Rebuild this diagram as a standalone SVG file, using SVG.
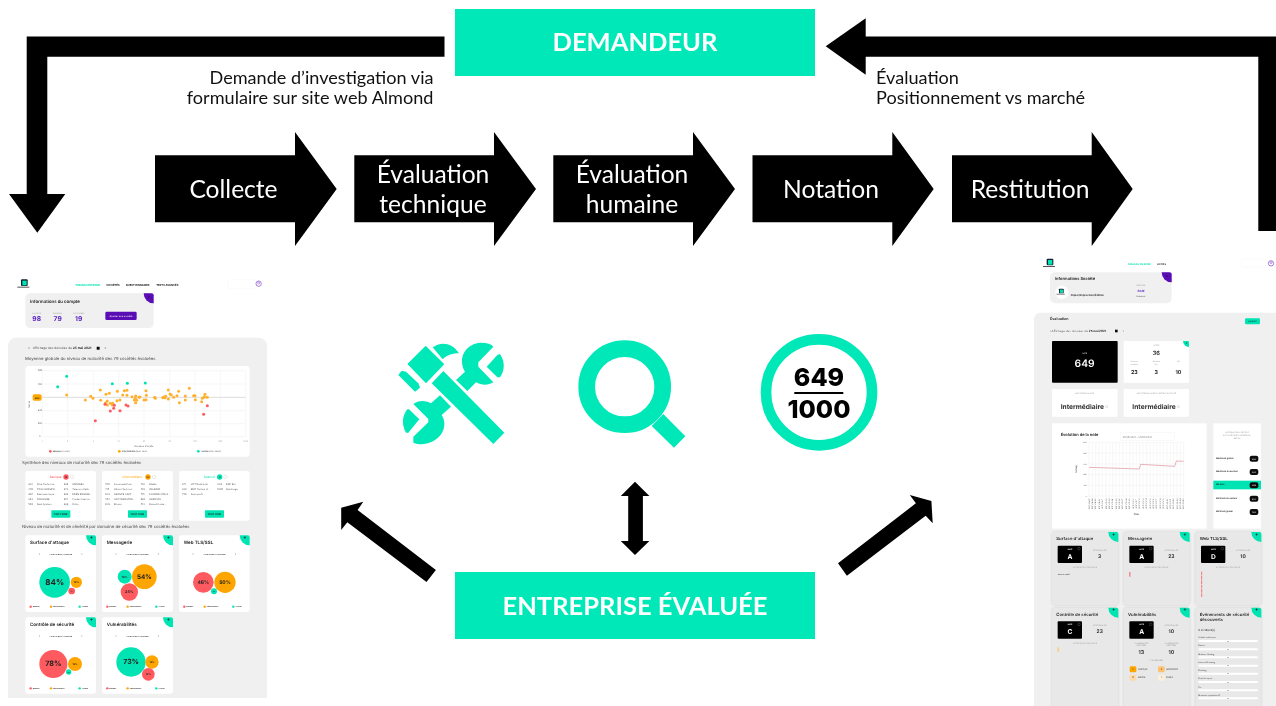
<svg xmlns="http://www.w3.org/2000/svg" width="1276" height="706" viewBox="0 0 1276 706">
<style>
text{font-family:"Lato","Open Sans","Liberation Sans",sans-serif}
.m{fill:#00e8b8}.k{fill:#000}
.st{font-size:24.6px;fill:#fff;text-anchor:middle}
.ti{font-size:25.5px;font-weight:700;fill:#fff;text-anchor:middle}
.la{font-size:18.1px;fill:#111}
.sc text{font-family:"Inter","Open Sans",sans-serif;fill:#222;text-rendering:geometricPrecision}
.sc .c,.c{text-anchor:middle}
.sc .g{fill:#999}
.sc .w{fill:#fff}
.sc .b{font-weight:700}
.sc .s{font-weight:600}
.sc .p{fill:#5a1fc0;font-weight:700}
.sc .mi{fill:#00e3b2}
.sc .hd{font-size:12.7px;fill:#444}
.card{fill:#fff}
.gray{fill:#f0f0f0}
.tile{fill:#e8e8e8;filter:drop-shadow(0 0 3px #ccc)}
.r{fill:#ff5a5f}.o{fill:#ffa500}.v{fill:#00e3b2}
.grid{stroke:#eee;stroke-width:1.5;fill:none}
.n6 text{font-size:7.5px;fill:#555}
.lg text{font-size:6px}
.t13{font-size:13.5px;font-weight:600}
.f5{font-size:5px}
.f6{font-size:6.5px}
.pts circle{stroke:none}
.pts .o{fill:#ffb02e}
</style>
<defs>
<filter id="bl" x="-2%" y="-2%" width="104%" height="104%"><feGaussianBlur stdDeviation="0.5"/></filter>
<g id="gc"><path class="v" d="M-30 0H-6a6 6 0 0 1 6 6V30A30 30 0 0 1-30 0Z"/><text class="c b" x="-14" y="14" style="font-size:15px;fill:#000">+</text></g>
<g id="pc"><path d="M-30 0H-6a6 6 0 0 1 6 6V30A30 30 0 0 1-30 0Z" fill="#5a0fb4"/><text class="c w b" x="-14" y="14" style="font-size:12px">+</text></g>
<g id="lgd" class="lg"><circle class="r" cx="16" cy="380" r="3.5"/><text x="22" y="382">Basique</text><circle class="o" cx="77" cy="380" r="3.5"/><text x="83" y="382">Intermédiaire</text><circle class="v" cx="163" cy="380" r="3.5"/><text x="169" y="382">Avancé</text></g>
<g id="nvm"><text class="c s" x="106" y="225" style="font-size:6.5px">NIVEAU DE MATURITÉ</text><text class="c s" x="42" y="226" style="font-size:10px">‹</text><text class="c s" x="170" y="226" style="font-size:10px">›</text></g>
<g id="logo"><rect x="0" y="0" width="20" height="20" rx="3" fill="#123"/><rect x="4" y="4" width="13" height="14" fill="#00e3b2"/><rect x="-11" y="22" width="36" height="3" fill="#555"/></g>
<g id="usr"><circle r="8" fill="none" stroke="#7a40c8" stroke-width="2"/><circle cy="-2" r="3" fill="none" stroke="#7a40c8" stroke-width="1.5"/></g>
</defs>
<rect width="1276" height="706" fill="#fff"/>

<g id="screen-left" class="sc" filter="url(#bl)">
<g transform="translate(0 270) scale(.33333)">
<use href="#logo" x="63" y="28"/>
<text class="c b mi" x="263" y="47" style="font-size:8px">TABLEAU DE BORD</text>
<text class="c b" x="339" y="47" style="font-size:8px">SOCIÉTÉS</text>
<text class="c b" x="413" y="47" style="font-size:8px">QUESTIONNAIRES</text>
<text class="c b" x="502" y="47" style="font-size:8px">TESTS AVANCÉS</text>
<rect x="683" y="29" width="87" height="27" rx="4" fill="#fff" stroke="#f2f2f2"/>
<use href="#usr" x="776" y="41"/>
<rect class="gray" x="76" y="70" width="385" height="104" rx="14"/>
<use href="#pc" x="461" y="70"/>
<text x="90" y="99" class="s" style="font-size:13px">Informations du compte</text>
<text class="c g f6" x="110" y="131">SOCIÉTÉ</text><text class="c g f6" x="173" y="131">ÉVALUÉS</text><text class="c g f6" x="237" y="131">EN COURS</text>
<text class="c p" x="110" y="154" style="font-size:20px">98</text><text class="c p" x="173" y="154" style="font-size:20px">79</text><text class="c p" x="236" y="154" style="font-size:20px">19</text>
<rect x="316" y="125" width="94" height="25" rx="4" fill="#5a0fb4"/><text class="c w" x="363" y="140" style="font-size:7.5px">Ajouter une société</text>
<path class="gray" d="M24 1284V228a25 25 0 0 1 25-25H776a25 25 0 0 1 25 25V1284Z"/>
<text class="c" x="87" y="238" style="font-size:11px">‹</text>
<text x="98" y="237" style="font-size:9.5px;fill:#555">Affichage des données du <tspan class="b" style="fill:#111">25 mai 2021</tspan></text>
<rect x="290" y="230" width="9" height="9" rx="1" fill="#111"/>
<text class="c" x="316" y="238" style="font-size:11px">›</text>
<text class="hd" x="75" y="269">Moyenne globale du niveau de maturité des 79 sociétés évaluées</text>
<rect class="card" x="76" y="288" width="673" height="272" rx="10"/>
<path class="grid" d="M127 302V500M203 302V500M280 302V500M356 302V500M432 302V500M509 302V500M585 302V500M661 302V500M737 302V500M127 302H737M127 342H737M127 422H737M127 461H737M127 500H737"/>
<path d="M127 382H737" stroke="#ddd" stroke-width="3"/>
<g class="c g" style="font-size:6px" text-anchor="end"><text x="120" y="304">1000</text><text x="120" y="344">800</text><text x="120" y="424">400</text><text x="120" y="463">200</text><text x="120" y="502">0</text></g>
<g style="font-size:6px"><text class="c g" x="127" y="516">1</text><text class="c g" x="203" y="516">2</text><text class="c g" x="280" y="516">5</text><text class="c g" x="356" y="516">10</text><text class="c g" x="432" y="516">20</text><text class="c g" x="509" y="516">50</text><text class="c g" x="585" y="516">100</text><text class="c g" x="661" y="516">200</text><text class="c g" x="737" y="516">1000</text></g>
<rect x="98" y="373" width="27" height="19" rx="5" fill="#ffa500"/><text class="c b" x="112" y="386" style="font-size:7px">652</text>
<text class="c" transform="translate(91 403) rotate(-90)" style="font-size:7.5px;fill:#555">Score</text>
<text class="c" x="432" y="532" style="font-size:7.5px;fill:#555">Nombre d'actifs</text>
<g class="pts"><g class="o" >
<circle cx="200" cy="375" r="4.5"/><circle cx="256" cy="390" r="4.5"/><circle cx="272" cy="379" r="4.5"/><circle cx="279" cy="385" r="4.5"/><circle cx="301" cy="360" r="4.5"/><circle cx="302" cy="391" r="4.5"/><circle cx="318" cy="373" r="4.5"/><circle cx="328" cy="370" r="4.5"/><circle cx="322" cy="393" r="4.5"/><circle cx="317" cy="398" r="4.5"/><circle cx="331" cy="400" r="4.5"/><circle cx="338" cy="400" r="4.5"/><circle cx="352" cy="364" r="4.5"/><circle cx="351" cy="392" r="4.5"/><circle cx="360" cy="390" r="4.5"/><circle cx="368" cy="375" r="4.5"/><circle cx="373" cy="362" r="4.5"/><circle cx="381" cy="361" r="4.5"/><circle cx="381" cy="376" r="4.5"/><circle cx="396" cy="380" r="4.5"/><circle cx="403" cy="390" r="4.5"/><circle cx="407" cy="378" r="4.5"/><circle cx="406" cy="385" r="4.5"/><circle cx="417" cy="382" r="4.5"/><circle cx="420" cy="381" r="4.5"/><circle cx="407" cy="398" r="4.5"/><circle cx="410" cy="391" r="4.5"/><circle cx="432" cy="390" r="4.5"/><circle cx="438" cy="389" r="4.5"/><circle cx="438" cy="362" r="4.5"/><circle cx="439" cy="376" r="4.5"/><circle cx="464" cy="382" r="4.5"/><circle cx="466" cy="385" r="4.5"/><circle cx="488" cy="383" r="4.5"/><circle cx="492" cy="381" r="4.5"/><circle cx="497" cy="379" r="4.5"/><circle cx="505" cy="360" r="4.5"/><circle cx="505" cy="387" r="4.5"/><circle cx="510" cy="372" r="4.5"/><circle cx="514" cy="375" r="4.5"/><circle cx="521" cy="382" r="4.5"/><circle cx="531" cy="377" r="4.5"/><circle cx="536" cy="364" r="4.5"/><circle cx="538" cy="398" r="4.5"/><circle cx="556" cy="378" r="4.5"/><circle cx="556" cy="390" r="4.5"/><circle cx="568" cy="355" r="4.5"/><circle cx="581" cy="377" r="4.5"/><circle cx="585" cy="377" r="4.5"/><circle cx="586" cy="389" r="4.5"/><circle cx="605" cy="395" r="4.5"/><circle cx="607" cy="385" r="4.5"/><circle cx="615" cy="373" r="4.5"/><circle cx="613" cy="380" r="4.5"/><circle cx="622" cy="382" r="4.5"/><circle cx="612" cy="382" r="4.5"/><circle cx="495" cy="383" r="4.5"/><circle cx="337" cy="405" r="4.5"/><circle cx="322" cy="405" r="4.5"/></g>
<g class="r"><circle cx="286" cy="452" r="4.5"/><circle cx="315" cy="403" r="4.5"/><circle cx="331" cy="423" r="4.5"/><circle cx="341" cy="415" r="4.5"/><circle cx="343" cy="406" r="4.5"/><circle cx="360" cy="422" r="4.5"/><circle cx="378" cy="405" r="4.5"/><circle cx="384" cy="408" r="4.5"/><circle cx="611" cy="433" r="4.5"/><circle cx="622" cy="407" r="4.5"/></g>
<g class="v"><circle cx="173" cy="350" r="4.5"/><circle cx="200" cy="319" r="4.5"/><circle cx="337" cy="341" r="4.5"/><circle cx="382" cy="340" r="4.5"/><circle cx="436" cy="339" r="4.5"/></g></g>
<g style="font-size:6.5px"><circle class="r" cx="151" cy="544" r="4"/><text x="158" y="546">Basique (0-500)</text><circle class="o" cx="358" cy="544" r="4"/><text x="366" y="546">Intermédiaire (500-750)</text><circle class="v" cx="595" cy="544" r="4"/><text x="603" y="546">Avancé (750-1000)</text></g>
<text class="hd" x="66" y="581">Synthèse des niveaux de maturité des 79 sociétés évaluées</text>
<rect class="card" x="76" y="603" width="212" height="149" rx="7"/><rect class="card" x="306" y="603" width="213" height="149" rx="7"/><rect class="card" x="537" y="603" width="212" height="149" rx="7"/>
<text class="c" x="167" y="625" style="font-size:9.5px;fill:#ff5a5f">Basique</text><circle class="r" cx="198" cy="621" r="8"/><text class="c b" x="198" y="624" style="font-size:7px">16</text><circle cx="216" cy="621" r="5" fill="none" stroke="#bbb"/>
<text class="c" x="397" y="625" style="font-size:9.5px;fill:#ffa500">Intermédiaire</text><circle class="o" cx="444" cy="621" r="8"/><text class="c b" x="444" y="624" style="font-size:7px">58</text><circle cx="462" cy="621" r="5" fill="none" stroke="#bbb"/>
<text class="c" x="628" y="625" style="font-size:9.5px;fill:#00e3b2">Avancé</text><circle class="v" cx="659" cy="621" r="8"/><text class="c b" x="659" y="624" style="font-size:7px">5</text><circle cx="676" cy="621" r="5" fill="none" stroke="#bbb"/>
</g>
<g transform="translate(0 480) scale(.33333)">
<g class="n6">
<text x="85" y="16">481</text><text x="111" y="16">Dive Performa...</text><text x="85" y="31">350</text><text x="111" y="31">TOSS GROUPE...</text><text x="85" y="46">467</text><text x="111" y="46">Business Secu...</text><text x="85" y="60">263</text><text x="111" y="60">DIGISIGNE</text><text x="85" y="75">500</text><text x="111" y="75">Real System</text>
<text x="191" y="16">409</text><text x="217" y="16">ANTARES</text><text x="191" y="31">473</text><text x="217" y="31">Telecom Valle</text><text x="191" y="46">408</text><text x="217" y="46">EDEN BOURSE...</text><text x="191" y="60">415</text><text x="217" y="60">Prodact Servic...</text><text x="191" y="75">489</text><text x="217" y="75">Orkis</text>
<text x="316" y="16">570</text><text x="342" y="16">Accenade Fran...</text><text x="316" y="31">715</text><text x="342" y="31">Altravi Technol...</text><text x="316" y="46">633</text><text x="342" y="46">GROUPE SAFT...</text><text x="316" y="60">553</text><text x="342" y="60">SOCTRANSPOR...</text><text x="316" y="75">638</text><text x="342" y="75">Etrans</text>
<text x="422" y="16">714</text><text x="448" y="16">Blabla</text><text x="422" y="31">703</text><text x="448" y="31">OBJENIO</text><text x="422" y="46">715</text><text x="448" y="46">FLOWER SITE A...</text><text x="422" y="60">663</text><text x="448" y="60">GEKOSPA</text><text x="422" y="75">513</text><text x="448" y="75">Barentt Luxu...</text>
<text x="546" y="16">871</text><text x="572" y="16">HTT Data Solu</text><text x="546" y="31">830</text><text x="572" y="31">BMT Partner A...</text><text x="546" y="46">759</text><text x="572" y="46">Sunnosoft</text>
<text x="652" y="16">829</text><text x="678" y="16">BNP Ehl</text><text x="652" y="31">1000</text><text x="678" y="31">Quintrege</text>
</g>
<g><rect class="v" x="154" y="91" width="57" height="22" rx="2"/><text class="c b" x="182" y="105" style="font-size:7.5px">TOUT VOIR</text><rect class="v" x="384" y="91" width="57" height="22" rx="2"/><text class="c b" x="412" y="105" style="font-size:7.5px">TOUT VOIR</text><rect class="v" x="615" y="91" width="57" height="22" rx="2"/><text class="c b" x="643" y="105" style="font-size:7.5px">TOUT VOIR</text></g>
<text class="hd" x="66" y="144">Niveau de maturité et de sévérité par domaine de sécurité des 79 sociétés évaluées</text>
<g id="l-surface"><rect class="card" x="76" y="166" width="212" height="230" rx="7"/><use href="#gc" x="288" y="166"/><text class="t13" x="90" y="193">Surface d'attaque</text><use href="#nvm" x="76"/><use href="#lgd" x="76"/>
<circle class="v" cx="164" cy="307" r="46"/><circle class="o" cx="229" cy="307" r="17"/><circle class="r" cx="215" cy="333" r="10"/><text class="c b" x="164" y="315" style="font-size:24px">84%</text><text class="c b" x="229" y="310" style="font-size:7px">10%</text><text class="c b" x="215" y="335" style="font-size:5px">1%</text></g>
<g id="l-messagerie"><rect class="card" x="306" y="166" width="213" height="230" rx="7"/><use href="#gc" x="519" y="166"/><text class="t13" x="320" y="193">Messagerie</text><use href="#nvm" x="306"/><use href="#lgd" x="306"/>
<circle class="v" cx="374" cy="290" r="21"/><circle class="o" cx="433" cy="290" r="37"/><circle class="r" cx="388" cy="336" r="26"/><text class="c b" x="433" y="296" style="font-size:19px">54%</text><text class="c b" x="374" y="293" style="font-size:8px">18%</text><text class="c b" x="388" y="340" style="font-size:11px">28%</text></g>
<g id="l-web"><rect class="card" x="537" y="166" width="212" height="230" rx="7"/><use href="#gc" x="749" y="166"/><text class="t13" x="551" y="193">Web TLS/SSL</text><use href="#nvm" x="537"/><use href="#lgd" x="537"/>
<circle class="r" cx="610" cy="307" r="31"/><circle class="o" cx="675" cy="307" r="32"/><circle class="v" cx="642" cy="334" r="9"/><text class="c b" x="610" y="312" style="font-size:15px">46%</text><text class="c b" x="675" y="312" style="font-size:15px">50%</text><text class="c b" x="642" y="336" style="font-size:4.5px">4%</text></g>
<g id="l-controle"><rect class="card" x="76" y="412" width="212" height="229" rx="7"/><use href="#gc" x="288" y="412"/><text class="t13" x="90" y="438">Contrôle de sécurité</text><use transform="translate(76 245)" href="#nvm"/><use transform="translate(76 245)" href="#lgd"/>
<circle class="r" cx="160" cy="552" r="42"/><circle class="o" cx="225" cy="552" r="21"/><circle class="v" cx="206" cy="576" r="8"/><text class="c b" x="160" y="559" style="font-size:22px">78%</text><text class="c b" x="225" y="555" style="font-size:7px">19%</text><text class="c b" x="206" y="578" style="font-size:4.5px">3%</text></g>
<g id="l-vuln"><rect class="card" x="306" y="412" width="213" height="229" rx="7"/><use href="#gc" x="519" y="412"/><text class="t13" x="320" y="438">Vulnérabilités</text><use transform="translate(306 245)" href="#nvm"/><use transform="translate(306 245)" href="#lgd"/>
<circle class="v" cx="393" cy="546" r="44"/><circle class="o" cx="456" cy="546" r="20"/><circle class="r" cx="445" cy="583" r="19"/><text class="c b" x="393" y="552" style="font-size:21px">73%</text><text class="c b" x="456" y="549" style="font-size:7px">14%</text><text class="c b" x="445" y="586" style="font-size:7px">14%</text></g>
</g>
</g>

<g id="screen-right" class="sc" filter="url(#bl)">
<g transform="translate(1030 250) scale(.33333)">
<use href="#logo" x="50" y="26"/>
<text class="c b mi" x="328" y="46" style="font-size:7.5px">TABLEAU DE BORD</text><text class="c b" x="395" y="46" style="font-size:7.5px">ACTIFS</text>
<rect x="635" y="27" width="75" height="25" rx="4" fill="#fff" stroke="#f2f2f2"/><use href="#usr" x="723" y="40"/>
<rect class="gray" x="60" y="67" width="365" height="93" rx="15"/><use href="#pc" x="425" y="67"/>
<text x="75" y="89" class="s" style="font-size:12px">Informations Société</text>
<circle cx="96" cy="127" r="20" fill="#fff"/><use href="#logo" transform="translate(87 116) scale(.7)"/>
<text x="122" y="139" style="font-size:8px" class="s">Papier/Impression/Édition</text>
<text class="c g f5" x="332" y="109">CATÉGORIE</text><text class="c p" x="333" y="125" style="font-size:9px">Gold</text><text class="c" x="332" y="142" style="font-size:6px">Unlimited</text>
<path class="gray" d="M12 1400V208a20 20 0 0 1 20-20H760V1400Z"/>
<text x="60" y="209" class="s" style="font-size:11px">Évaluation</text>
<rect class="v" x="645" y="205" width="45" height="18" rx="4"/><text class="c" x="667" y="217" style="font-size:6.5px">Exporter</text>
<text x="59" y="246" style="font-size:8.8px;fill:#555">‹ Affichage des données du <tspan class="b" style="fill:#111">25 mai 2021</tspan></text><rect x="255" y="239" width="8" height="8" fill="#111"/><text x="278" y="246" style="font-size:8px">›</text>
<rect x="66" y="273" width="197" height="125" rx="3" fill="#000"/><text class="c w f5" x="164" y="312">NOTE</text><text class="c w s" x="164" y="350" style="font-size:31px">649</text>
<rect class="card" x="281" y="273" width="196" height="125" rx="3"/><use href="#gc" transform="translate(477 273) scale(.6)"/>
<text class="c g f5" x="379" y="288">ACTIFS</text><text class="c s" x="379" y="316" style="font-size:17px">36</text>
<text class="c g f5" x="313" y="337">Noms de</text><text class="c g f5" x="313" y="345">domaines</text><text class="c g f5" x="379" y="337">Adresses</text><text class="c g f5" x="379" y="345">IPv4</text><text class="c g f5" x="445" y="337">URL</text>
<text class="c b" x="313" y="372" style="font-size:16px">23</text><text class="c b" x="379" y="372" style="font-size:16px">3</text><text class="c b" x="445" y="372" style="font-size:16px">10</text>
<rect class="card" x="66" y="417" width="197" height="83" rx="3"/><text class="c g f5" x="164" y="431">MATURITÉ DE LA NOTE</text><text class="c b" x="157" y="477" style="font-size:20px;fill:#333">Intermédiaire</text><circle cx="230" cy="470" r="3.5" fill="none" stroke="#aaa"/>
<rect class="card" x="281" y="417" width="196" height="83" rx="3"/><text class="c g f5" x="379" y="431">MATURITÉ DE LA NOTE DU SECTEUR D'ACTIVITÉ</text><text class="c b" x="372" y="477" style="font-size:20px;fill:#333">Intermédiaire</text><circle cx="445" cy="470" r="3.5" fill="none" stroke="#aaa"/>
</g>
<g id="r-chart" transform="translate(1040 420) scale(.33333)">
<rect class="card" x="36" y="10" width="464" height="316"/>
<text x="62" y="49" class="s" style="font-size:12px">Évolution de la note</text>
<rect x="241" y="38" width="162" height="24" fill="#fff" stroke="#eee"/><text x="248" y="53" style="font-size:7.5px;fill:#777">01/05/2021 - 25/05/2021</text>
<path class="grid" d="M147 67H431M147 99H431M147 132H431M147 164H431M147 196H431M147 228H431M147 67V232M157 67V232M167 67V232M177 67V232M187 67V232M198 67V232M208 67V232M218 67V232M228 67V232M238 67V232M248 67V232M259 67V232M269 67V232M279 67V232M289 67V232M299 67V232M309 67V232M320 67V232M330 67V232M340 67V232M350 67V232M360 67V232M370 67V232M381 67V232M391 67V232M401 67V232M411 67V232M421 67V232M431 67V232"/>
<g style="font-size:5.5px" text-anchor="end"><text x="141" y="69">1000</text><text x="141" y="101">800</text><text x="141" y="134">600</text><text x="141" y="166">400</text><text x="141" y="198">200</text><text x="141" y="230">0</text></g>
<path d="M147 142L298 147L302 133L404 139L409 123L431 124" fill="none" stroke="#d9909a" stroke-width="2"/>
<g style="font-size:5.6px;fill:#777" text-anchor="end">
<text transform="translate(149 236) rotate(-90)">2021-04-27</text><text transform="translate(159 236) rotate(-90)">2021-04-28</text><text transform="translate(169 236) rotate(-90)">2021-04-29</text><text transform="translate(179 236) rotate(-90)">2021-04-30</text><text transform="translate(189 236) rotate(-90)">2021-05-01</text><text transform="translate(200 236) rotate(-90)">2021-05-02</text><text transform="translate(210 236) rotate(-90)">2021-05-03</text><text transform="translate(220 236) rotate(-90)">2021-05-04</text><text transform="translate(230 236) rotate(-90)">2021-05-05</text><text transform="translate(240 236) rotate(-90)">2021-05-06</text><text transform="translate(250 236) rotate(-90)">2021-05-07</text><text transform="translate(261 236) rotate(-90)">2021-05-08</text><text transform="translate(271 236) rotate(-90)">2021-05-09</text><text transform="translate(281 236) rotate(-90)">2021-05-10</text><text transform="translate(291 236) rotate(-90)">2021-05-11</text><text transform="translate(301 236) rotate(-90)">2021-05-12</text><text transform="translate(311 236) rotate(-90)">2021-05-13</text><text transform="translate(322 236) rotate(-90)">2021-05-14</text><text transform="translate(332 236) rotate(-90)">2021-05-15</text><text transform="translate(342 236) rotate(-90)">2021-05-16</text><text transform="translate(352 236) rotate(-90)">2021-05-17</text><text transform="translate(362 236) rotate(-90)">2021-05-18</text><text transform="translate(372 236) rotate(-90)">2021-05-19</text><text transform="translate(383 236) rotate(-90)">2021-05-20</text><text transform="translate(393 236) rotate(-90)">2021-05-21</text><text transform="translate(403 236) rotate(-90)">2021-05-22</text><text transform="translate(413 236) rotate(-90)">2021-05-23</text><text transform="translate(423 236) rotate(-90)">2021-05-24</text><text transform="translate(433 236) rotate(-90)">2021-05-25</text></g>
<text class="c" transform="translate(110 147) rotate(-90)" style="font-size:7px">Rating</text><text class="c" x="289" y="284" style="font-size:7px">Date</text>
<rect class="card" x="520" y="10" width="143" height="316"/>
<g class="g f5"><text class="c g" x="591" y="38">NOTE RELATIVE AU SECTEUR</text><text class="c g" x="591" y="48">D'ACTIVITÉ PAPIER / IMPRESSION /</text><text class="c g" x="591" y="58">ÉDITION</text></g>
<rect class="v" x="520" y="182" width="143" height="26"/>
<g class="s" style="font-size:6.5px"><text x="528" y="116">Maximum global</text><text x="528" y="156">Maximum du secteur</text><text x="528" y="196">Ma note</text><text x="528" y="236">Minimum du secteur</text><text x="528" y="276">Minimum global</text></g>
<g fill="#111"><rect x="629" y="107" width="26" height="18" rx="6"/><rect x="629" y="147" width="26" height="18" rx="6"/><rect x="629" y="187" width="26" height="18" rx="6"/><rect x="629" y="227" width="26" height="18" rx="6"/><rect x="629" y="267" width="26" height="18" rx="6"/></g>
<g style="font-size:6.5px"><text class="c w" x="642" y="119">990</text><text class="c w" x="642" y="159">930</text><text class="c w" x="642" y="199">649</text><text class="c w" x="642" y="239">407</text><text class="c w" x="642" y="279">192</text></g>
</g>
<g transform="translate(1030 480) scale(.33333)">
<rect class="tile" x="66" y="156" width="199" height="219" rx="10"/><rect class="tile" x="281" y="156" width="198" height="219" rx="10"/><rect class="tile" x="496" y="156" width="198" height="219" rx="10"/>
<rect class="tile" x="66" y="383" width="199" height="330" rx="10"/><rect class="tile" x="281" y="383" width="198" height="330" rx="10"/><rect class="tile" x="496" y="383" width="198" height="330" rx="10"/>
<use href="#gc" x="265" y="156"/><use href="#gc" x="479" y="156"/><use href="#gc" x="694" y="156"/><use href="#gc" x="265" y="383"/><use href="#gc" x="479" y="383"/><use href="#gc" x="694" y="383"/>
<g class="s" style="font-size:12.8px"><text x="79" y="181">Surface d'attaque</text><text x="294" y="181">Messagerie</text><text x="509" y="181">Web TLS/SSL</text><text x="79" y="408">Contrôle de sécurité</text><text x="294" y="408">Vulnérabilités</text><text x="509" y="408">Événements de sécurité</text><text x="509" y="422">découverts</text></g>
<g fill="#000"><rect x="83" y="197" width="73" height="52" rx="3"/><rect x="298" y="197" width="73" height="52" rx="3"/><rect x="513" y="197" width="73" height="52" rx="3"/><rect x="83" y="424" width="73" height="52" rx="3"/><rect x="298" y="424" width="73" height="52" rx="3"/></g>
<g class="f5"><text class="c w b" x="120" y="209">NOTE</text><text class="c w b" x="335" y="209">NOTE</text><text class="c w b" x="550" y="209">NOTE</text><text class="c w b" x="120" y="436">NOTE</text><text class="c w b" x="335" y="436">NOTE</text></g>
<g style="font-size:20px"><text class="c w b" x="120" y="236">A</text><text class="c w b" x="335" y="236">A</text><text class="c w b" x="550" y="236">D</text><text class="c w b" x="120" y="463">C</text><text class="c w b" x="335" y="463">A</text></g>
<g fill="none" stroke="#888"><circle cx="147" cy="206" r="4"/><circle cx="362" cy="206" r="4"/><circle cx="577" cy="206" r="4"/><circle cx="147" cy="433" r="4"/><circle cx="362" cy="433" r="4"/></g>
<g class="f5"><text class="c g" x="209" y="212">ACTIFS ÉVALUÉS</text><text class="c g" x="424" y="212">ACTIFS ÉVALUÉS</text><text class="c g" x="639" y="212">ACTIFS ÉVALUÉS</text><text class="c g" x="209" y="439">ACTIFS ÉVALUÉS</text><text class="c g" x="424" y="439">ACTIFS ÉVALUÉS</text>
<text class="c g" x="165" y="264">ACTIFS PAR ROUTE À RISQUE</text><text class="c g" x="379" y="264">ACTIFS PAR ROUTE À RISQUE</text><text class="c g" x="594" y="264">ACTIFS PAR ROUTE À RISQUE</text><text class="c g" x="165" y="491">ACTIFS PAR ROUTE À RISQUE</text></g>
<g style="font-size:15px"><text class="c s" x="209" y="233">3</text><text class="c s" x="424" y="233">23</text><text class="c s" x="639" y="233">10</text><text class="c s" x="209" y="460">23</text><text class="c s" x="424" y="460">10</text></g>
<text x="83" y="286" style="font-size:5.5px">Aucune entité</text>
<rect x="298" y="276" width="3" height="14" fill="#ff5a5f"/>
<path d="M515 275V353" stroke="#ff5a5f" stroke-width="2.5" stroke-dasharray="11 2"/>
<rect x="83" y="502" width="3" height="14" fill="#ffc050"/>
<g class="f5"><text class="c g" x="334" y="491">VULNÉRABILITÉS</text><text class="c g" x="334" y="498">DÉTECTÉES</text><text class="c g" x="424" y="491">VULNÉRABILITÉS</text><text class="c g" x="424" y="498">DÉTECTÉES</text><text class="c g" x="379" y="543">CVE OBSERVÉES</text></g>
<g style="font-size:16px"><text class="c s" x="334" y="521">13</text><text class="c s" x="424" y="521">10</text></g>
<rect x="299" y="559" width="20" height="18" rx="4" fill="#ffa500"/><rect x="384" y="559" width="20" height="18" rx="4" fill="#ffc070"/><rect x="299" y="584" width="20" height="18" rx="4" fill="#ffd9a8"/><rect x="384" y="584" width="20" height="18" rx="4" fill="#fbeedd"/>
<g style="font-size:6px"><text class="c" x="309" y="570">0</text><text class="c" x="394" y="570">2</text><text class="c" x="309" y="595">10</text><text class="c" x="394" y="595">1</text><text x="324" y="570">CRITIQUE</text><text x="409" y="570">IMPORTANT</text><text x="324" y="595">MOYEN</text><text x="409" y="595">FAIBLE</text></g>
<text x="505" y="453" style="font-size:8.5px">0 incident(s)</text>
<g fill="#fff"><rect x="505" y="480" width="179" height="6" rx="3"/><rect x="505" y="505" width="179" height="6" rx="3"/><rect x="505" y="529" width="179" height="6" rx="3"/><rect x="505" y="554" width="179" height="6" rx="3"/><rect x="505" y="578" width="179" height="6" rx="3"/><rect x="505" y="603" width="179" height="6" rx="3"/><rect x="505" y="628" width="179" height="6" rx="3"/><rect x="505" y="652" width="179" height="6" rx="3"/></g>
<g style="font-size:6px"><text x="505" y="475">Activité malicieuse</text><text x="505" y="499">Botnet</text><text x="505" y="524">Malware Hosting</text><text x="505" y="549">Internet Scanning</text><text x="505" y="573">Phishing</text><text x="505" y="598">Envoi de spam</text><text x="505" y="623">Tor</text><text x="505" y="647">Mauvaise réputation IP</text></g>
<g style="font-size:4px"><text class="c" x="594" y="485">0%</text><text class="c" x="594" y="510">0%</text><text class="c" x="594" y="534">0%</text><text class="c" x="594" y="559">0%</text><text class="c" x="594" y="583">0%</text><text class="c" x="594" y="608">0%</text><text class="c" x="594" y="633">0%</text><text class="c" x="594" y="657">0%</text></g>
</g>
</g>

<g id="demandeur"><rect class="m" x="455" y="9" width="360" height="67"/><text class="ti" x="635" y="51">DEMANDEUR</text></g>
<g id="entreprise"><rect class="m" x="455" y="572" width="360" height="67"/><text class="ti" x="635" y="615">ENTREPRISE ÉVALUÉE</text></g>
<g id="connectors">
<path class="k" d="M444.5 36.5H26.7V194H9L37.3 232.7L65.3 194H47.3V56.7H444.5Z"/>
<path class="k" d="M825.7 46.3L865.7 18.3V36.5H1276V231H1258.3V56.7H865.7V74.7Z"/>
<path class="k" d="M635 481.7L649.4 496H642.9V541H649.4L635 555L620.8 541H628.2V496H620.8Z"/>
<path class="k" d="M363.3 501.7L341.2 507.7V530L347.3 522.3L426.5 582L435.9 570L357.6 510Z"/>
<path class="k" d="M909.8 495L931.4 501L932.7 523.3L925.7 515.7L846.9 575.7L838 563.3L915.9 503.3Z"/>
</g>
<g id="collecte"><path class="k" d="M155 155.3H295V132L336.7 189L295 246V222.3H155Z"/><text class="st" x="233.5" y="198">Collecte</text></g>
<g id="eval-tech"><path class="k" d="M354.3 155.3H494V132L536 189L494 246V222.3H354.3Z"/><text class="st" x="433" y="183">Évaluation</text><text class="st" x="433" y="213">technique</text></g>
<g id="eval-hum"><path class="k" d="M553.3 155.3H693V132L735 189L693 246V222.3H553.3Z"/><text class="st" x="632" y="183">Évaluation</text><text class="st" x="632" y="213">humaine</text></g>
<g id="notation"><path class="k" d="M752.5 155.3H892.3V132L933.7 189L892.3 246V222.3H752.5Z"/><text class="st" x="831" y="198">Notation</text></g>
<g id="restitution"><path class="k" d="M952 155.3H1091.7V132L1132.7 189L1091.7 246V222.3H952Z"/><text class="st" x="1030" y="198">Restitution</text></g>
<g id="label-left"><text class="la" x="433.5" y="84" text-anchor="end">Demande d’investigation via</text><text class="la" x="433.5" y="104" text-anchor="end">formulaire sur site web Almond</text></g>
<g id="label-right"><text class="la" x="876" y="84">Évaluation</text><text class="la" x="876" y="104">Positionnement vs marché</text></g>

<g id="icon-tools" transform="translate(390 320) scale(.33333)" class="m">
<path d="M107 80L160 133L108 187L55 132Z" stroke="#00e8b8" stroke-width="4" stroke-linejoin="round"/>
<path d="M35 152L25 165L75 215L90 203L85 190L48 155Z"/>
<path d="M128 82C150 65 185 65 207 100C190 100 170 105 158 118Z"/>
<path d="M160 153L343 338L310 372L125 190Z"/>
<path d="M305 75C265 55 215 80 216 125C216 140 222 150 225 155L198 180L232 213L258 187C275 197 295 197 310 187L265 140V127L310 80Z"/>
<path d="M330 102C345 125 345 150 330 172H322L290 140L322 105Z"/>
<path d="M70 368C110 385 165 355 163 310C163 298 158 290 155 285L183 260L150 226L123 250C105 240 85 240 70 252L115 297V307L70 350Z"/>
<path d="M52 268C35 290 35 315 48 338H55L88 298L57 268Z"/>
</g>
<g id="icon-search"><circle cx="624.7" cy="386.7" r="38" fill="none" stroke="#00e8b8" stroke-width="16.7"/><path class="m" d="M663.3 414L685.3 436.3L674 447.7L651.7 426Z"/></g>
<g id="icon-score"><circle cx="819" cy="392.3" r="53" fill="none" stroke="#00e8b8" stroke-width="10.7"/>
<text x="819" y="386" text-anchor="middle" style="font-family:Inter,'Open Sans',sans-serif;font-size:25px;font-weight:800;fill:#000">649</text><rect x="794.3" y="392" width="49" height="2"/><text x="819" y="418" text-anchor="middle" style="font-family:Inter,'Open Sans',sans-serif;font-size:25px;font-weight:800;fill:#000">1000</text></g>
</svg>
